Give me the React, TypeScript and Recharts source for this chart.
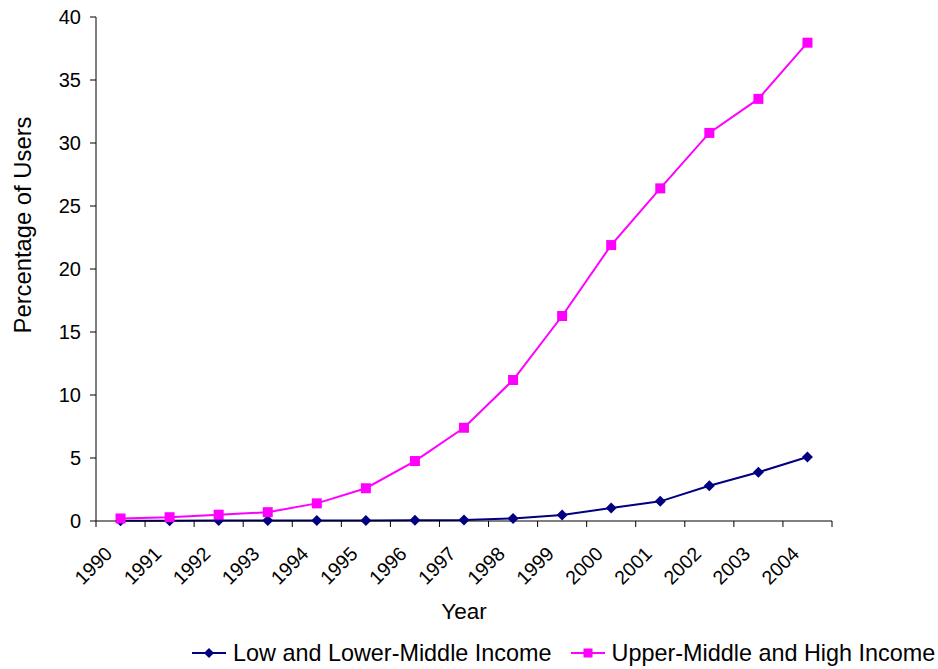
import React from 'react';
import { LineChart, Line, XAxis, YAxis, Legend } from 'recharts';

const years = ['1990', '1991', '1992', '1993', '1994', '1995', '1996', '1997', '1998', '1999', '2000', '2001', '2002', '2003', '2004'];
const lowIncome = [0.02, 0.02, 0.03, 0.03, 0.03, 0.03, 0.05, 0.08, 0.2, 0.48, 1.03, 1.56, 2.8, 3.87, 5.08];
const highIncome = [0.2, 0.3, 0.5, 0.7, 1.4, 2.6, 4.76, 7.4, 11.19, 16.27, 21.9, 26.4, 30.8, 33.5, 37.96];
const yTicks = [0, 5, 10, 15, 20, 25, 30, 35, 40];

const LOW_NAME = 'Low and Lower-Middle Income';
const HIGH_NAME = 'Upper-Middle and High Income';
const LOW_COLOR = '#000080';
const HIGH_COLOR = '#FF00FF';

const data = years.map((y, i) => ({ year: y, low: lowIncome[i], high: highIncome[i] }));

const W = 938;
const H = 669;
const MARGIN = { top: 17, right: 106, left: 0, bottom: 0 };
const Y_AXIS_W = 96;
const LEGEND_H = 32;
const X_AXIS_H = 116;
const PLOT_W = W - MARGIN.left - MARGIN.right - Y_AXIS_W;
const BAND = PLOT_W / years.length;
const FONT = '"Liberation Sans", Arial, sans-serif';

const Diamond = (props: any) => {
  const { cx, cy, fill, size = 5.5 } = props;
  if (cx == null || cy == null) return null;
  const r = size;
  return <polygon points={`${cx},${cy - r} ${cx + r},${cy} ${cx},${cy + r} ${cx - r},${cy}`} fill={fill} />;
};

const Square = (props: any) => {
  const { cx, cy, fill, size = 5 } = props;
  if (cx == null || cy == null) return null;
  return <rect x={cx - size} y={cy - size} width={2 * size} height={2 * size} fill={fill} />;
};

const XTick = (props: any) => {
  const { x, y, payload, index } = props;
  const last = index === years.length - 1;
  const tx = x - 7;
  const ty = y + 34;
  return (
    <g>
      <line x1={x - BAND / 2} x2={x - BAND / 2} y1={y} y2={y + 6} stroke="#000" strokeWidth={1} />
      {last && <line x1={x + BAND / 2} x2={x + BAND / 2} y1={y} y2={y + 6} stroke="#000" strokeWidth={1} />}
      <text x={tx} y={ty} textAnchor="end" fontSize={19.5} fontFamily={FONT} fill="#000" transform={`rotate(-45 ${tx} ${ty})`}>
        {payload.value}
      </text>
    </g>
  );
};

const YTitle = (props: any) => {
  const vb = props.viewBox || { x: 0, y: 0, width: 0, height: 0 };
  const cx = vb.x + 22;
  const cy = vb.y + vb.height / 2 - 44;
  return (
    <text x={cx} y={cy} textAnchor="middle" dominantBaseline="central" fontSize={23.8} fontFamily={FONT} fill="#000" transform={`rotate(-90 ${cx} ${cy})`}>
      Percentage of Users
    </text>
  );
};

const LegendContent = () => {
  const items = [
    { name: LOW_NAME, color: LOW_COLOR, shape: 'diamond' },
    { name: HIGH_NAME, color: HIGH_COLOR, shape: 'square' },
  ];
  return (
    <div style={{ display: 'flex', alignItems: 'center', paddingLeft: 192, height: LEGEND_H, fontFamily: FONT, fontSize: 23.4, color: '#000', whiteSpace: 'nowrap' }}>
      {items.map((it, i) => (
        <div key={it.name} style={{ display: 'flex', alignItems: 'center', marginLeft: i === 0 ? 0 : 19 }}>
          <svg width={34} height={20} style={{ display: 'block' }}>
            <line x1={0} x2={34} y1={10} y2={10} stroke={it.color} strokeWidth={2} />
            {it.shape === 'diamond' ? <Diamond cx={17} cy={10} size={5} fill={it.color} /> : <Square cx={17} cy={10} size={4.5} fill={it.color} />}
          </svg>
          <span style={{ marginLeft: 7 }}>{it.name}</span>
        </div>
      ))}
    </div>
  );
};

export default function App() {
  return (
    <div style={{ position: 'absolute', left: 0, top: 0, width: W, height: H, background: '#fff' }}>
      <LineChart width={W} height={H} data={data} margin={MARGIN}>
        <XAxis
          dataKey="year"
          scale="band"
          height={X_AXIS_H}
          tickLine={false}
          tickSize={0}
          tickMargin={0}
          interval={0}
          axisLine={{ stroke: '#000', strokeWidth: 1 }}
          tick={<XTick />}
          label={{ value: 'Year', position: 'insideBottom', offset: 18, fontSize: 22.5, fontFamily: FONT, fill: '#000' }}
        />
        <YAxis
          width={Y_AXIS_W}
          domain={[0, 40]}
          ticks={yTicks}
          interval={0}
          tickSize={6}
          tickMargin={9}
          axisLine={{ stroke: '#000', strokeWidth: 1 }}
          tickLine={{ stroke: '#000', strokeWidth: 1 }}
          tick={{ fontSize: 20, fontFamily: FONT, fill: '#000' }}
          label={<YTitle />}
        />
        <Legend verticalAlign="bottom" height={LEGEND_H} content={<LegendContent />} />
        <Line
          name={LOW_NAME}
          dataKey="low"
          stroke={LOW_COLOR}
          strokeWidth={2}
          dot={<Diamond fill={LOW_COLOR} size={5.5} />}
          activeDot={false}
          isAnimationActive={false}
        />
        <Line
          name={HIGH_NAME}
          dataKey="high"
          stroke={HIGH_COLOR}
          strokeWidth={2}
          dot={<Square fill={HIGH_COLOR} size={5} />}
          activeDot={false}
          isAnimationActive={false}
        />
      </LineChart>
    </div>
  );
}
